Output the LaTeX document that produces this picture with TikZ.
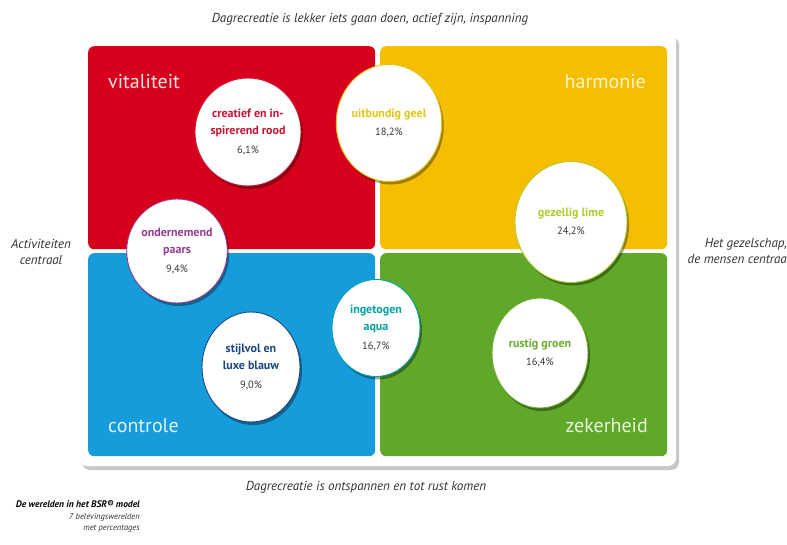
\documentclass[tikz,border=0pt]{standalone}
\usepackage{fontspec}
\setmainfont{PT Sans}
\usetikzlibrary{shapes.geometric,shadows}
\definecolor{qred}{RGB}{215,0,28}
\definecolor{qyellow}{RGB}{245,190,0}
\definecolor{qblue}{RGB}{22,155,219}
\definecolor{qgreen}{RGB}{95,168,41}
\definecolor{trood}{RGB}{200,20,50}
\definecolor{tgeel}{RGB}{228,196,20}
\definecolor{tpaars}{RGB}{150,60,140}
\definecolor{tblauw}{RGB}{25,70,130}
\definecolor{taqua}{RGB}{0,160,165}
\definecolor{tlime}{RGB}{175,205,40}
\definecolor{tgroen}{RGB}{110,170,45}
\definecolor{pct}{RGB}{55,55,55}
\definecolor{lred}{RGB}{255,228,228}
\definecolor{lyellow}{RGB}{255,246,205}
\definecolor{lblue}{RGB}{225,242,255}
\definecolor{lgreen}{RGB}{232,246,218}
\definecolor{captcol}{RGB}{50,50,50}
\newcommand{\pc}[1]{{\mdseries\color{pct}\fontsize{10.5}{12}\selectfont #1}}
\begin{document}
\begin{tikzpicture}[x=1pt,y=-1pt,
  quad/.style={fill=#1, draw=none, rounded corners=6pt, anchor=north west,
    minimum width=287pt, minimum height=203pt, inner sep=0pt},
  qlabel/.style={text=#1, font=\fontsize{20}{24}\selectfont, inner sep=0pt},
  bubble/.style={ellipse, fill=white, draw=#1, text=#1, line width=0.9pt,
    inner sep=0pt, align=center,
    font=\bfseries\fontsize{12}{17.5}\selectfont,
    drop shadow={shadow xshift=2pt, shadow yshift=-3pt, opacity=0.35, fill=black}},
  capt/.style={text=captcol, font=\itshape\fontsize{13}{16.5}\selectfont, inner sep=0pt, align=center},
  smalltxt/.style={text=captcol, font=\itshape\fontsize{8.5}{11.5}\selectfont, inner sep=0pt, align=right}
]
\useasboundingbox (0,0) rectangle (787,545);
\fill[white] (0,0) rectangle (787,545);
% panel
\fill[black!22, rounded corners=8pt] (82,37) rectangle (679,470);
\fill[white, rounded corners=8pt] (79,33) rectangle (676,466);
% quadrants
\node[quad=qred] (red) at (88,46) {};
\node[quad=qyellow] (yellow) at (380,46) {};
\node[quad=qblue] (blue) at (88,253) {};
\node[quad=qgreen] (green) at (380,253) {};
% quadrant labels
\node[qlabel=lred, anchor=base west] (lvit) at (108,89) {vitaliteit};
\node[qlabel=lyellow, anchor=base east] (lhar) at (646,89) {harmonie};
\node[qlabel=lblue, anchor=base west] (lcon) at (108,432) {controle};
\node[qlabel=lgreen, anchor=base east] (lzek) at (648,432) {zekerheid};
% bubbles
\node[bubble=trood, minimum width=90pt, minimum height=108pt] (rood) at (248,132)
  {creatief en in-\\spirerend rood\\[1pt]\pc{6,1\%}};
\node[bubble=tgeel, minimum width=102pt, minimum height=117pt] (geel) at (389,123)
  {uitbundig geel\\[1pt]\pc{18,2\%}};
\node[bubble=tpaars, minimum width=92pt, minimum height=104pt] (paars) at (177,251)
  {ondernemend\\paars\\[1pt]\pc{9,4\%}};
\node[bubble=tblauw, minimum width=98pt, minimum height=110pt] (blauw) at (251,367)
  {stijlvol en\\luxe blauw\\[1pt]\pc{9,0\%}};
\node[bubble=taqua, minimum width=88pt, minimum height=97pt] (aqua) at (376,328)
  {ingetogen\\aqua\\[1pt]\pc{16,7\%}};
\node[bubble=tlime, minimum width=112pt, minimum height=121pt] (lime) at (571,222)
  {gezellig lime\\[1pt]\pc{24,2\%}};
\node[bubble=tgroen, minimum width=96pt, minimum height=110pt] (groen) at (540,353)
  {rustig groen\\[1pt]\pc{16,4\%}};
% captions
\node[capt] (top) at (370,19) {Dagrecreatie is lekker iets gaan doen, actief zijn, inspanning};
\node[capt] (bottom) at (366,487) {Dagrecreatie is ontspannen en tot rust komen};
\node[capt] (left) at (41,252) {Activiteiten\\centraal};
\node[capt, align=right, anchor=east] (right) at (787,251) {Het gezelschap,\\de mensen centraa};
% legend
\node[smalltxt, anchor=north east, font=\bfseries\itshape\fontsize{9.5}{11.5}\selectfont, text=black] (leg1) at (140,500) {De werelden in het BSR® model};
\node[smalltxt, anchor=north east] (leg2) at (140,513) {7 belevingswerelden\\met percentages};
\end{tikzpicture}
\end{document}
